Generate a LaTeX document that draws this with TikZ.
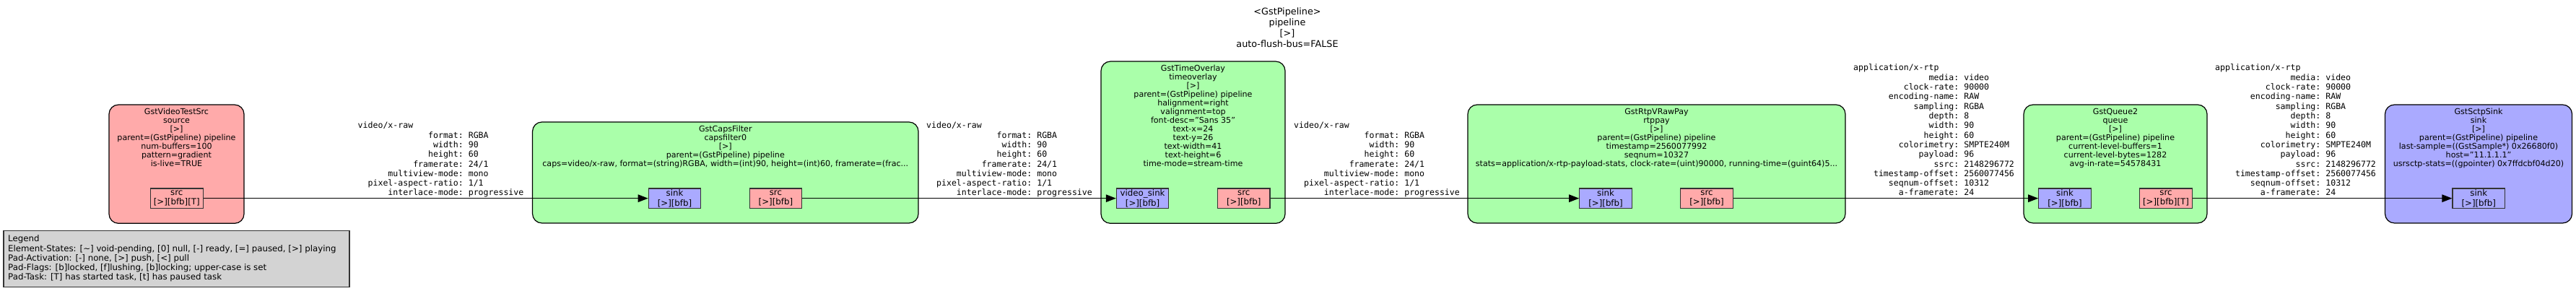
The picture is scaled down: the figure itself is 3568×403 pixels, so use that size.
\documentclass[tikz,border=0pt]{standalone}
\usepackage{fontspec}
\setmainfont{DejaVu Sans}
\setmonofont{DejaVu Sans Mono}
\usepackage{xcolor}
\usetikzlibrary{arrows.meta,positioning}

\definecolor{srcpink}{HTML}{FFAAAA}
\definecolor{filtgreen}{HTML}{AAFFAA}
\definecolor{sinkblue}{HTML}{AAAAFF}
\definecolor{legendgray}{HTML}{D3D3D3}

% key right-aligned in a 20 character column, then the value
\newcommand{\capkey}[2]{\makebox[12.041em][r]{#1}: #2}
\newcommand{\rawcaps}{video/x-raw\\
  \capkey{format}{RGBA}\\
  \capkey{width}{90}\\
  \capkey{height}{60}\\
  \capkey{framerate}{24/1}\\
  \capkey{multiview-mode}{mono}\\
  \capkey{pixel-aspect-ratio}{1/1}\\
  \capkey{interlace-mode}{progressive}}
\newcommand{\rtpcaps}{application/x-rtp\\
  \capkey{media}{video}\\
  \capkey{clock-rate}{90000}\\
  \capkey{encoding-name}{RAW}\\
  \capkey{sampling}{RGBA}\\
  \capkey{depth}{8}\\
  \capkey{width}{90}\\
  \capkey{height}{60}\\
  \capkey{colorimetry}{SMPTE240M}\\
  \capkey{payload}{96}\\
  \capkey{ssrc}{2148296772}\\
  \capkey{timestamp-offset}{2560077456}\\
  \capkey{seqnum-offset}{10312}\\
  \capkey{a-framerate}{24}}

\begin{document}
\begin{tikzpicture}[x=1pt,y=1pt,
    elem/.style={draw=black,line width=1.2pt,rounded corners=13pt,inner sep=0pt},
    elemtext/.style={inner sep=0pt,align=center,anchor=base,
      font=\fontsize{11.1}{12}\selectfont},
    pad/.style={draw=black!80,line width=1.1pt,inner sep=0pt,align=center,
      minimum width=72.5pt,minimum height=27.3pt,
      font=\fontsize{11.8}{13.3}\selectfont},
    sinkpad/.style={pad,fill=sinkblue},
    srcpad/.style={pad,fill=srcpink},
    edge/.style={line width=1.3pt,-{Triangle[length=14pt,width=10.5pt]}},
    caps/.style={inner sep=0pt,align=left,anchor=base west,
      font=\ttfamily\fontsize{11.56}{13.33}\selectfont}]
  \useasboundingbox (0,0) rectangle (3568,403);

  % pipeline title (base is the last line)
  \node[elemtext,font=\fontsize{12.8}{15}\selectfont] (title) at (1783,337.4)
    {<GstPipeline>\\pipeline\\{[>]}\\auto-flush-bus=FALSE};

  % elements
  \node[elem,fill=srcpink,minimum width=187pt,minimum height=164.3pt]
    (source) at (244.5,175.8) {};
  \node[elem,fill=filtgreen,minimum width=534.5pt,minimum height=140pt]
    (capsf) at (1004.8,164) {};
  \node[elem,fill=filtgreen,minimum width=255pt,minimum height=224.3pt]
    (overlay) at (1652.5,205.8) {};
  \node[elem,fill=filtgreen,minimum width=523pt,minimum height=164pt]
    (rtppay) at (2294.5,176) {};
  \node[elem,fill=filtgreen,minimum width=254pt,minimum height=164pt]
    (queue) at (2930,176) {};
  \node[elem,fill=sinkblue,minimum width=259pt,minimum height=164pt]
    (sink) at (3433,176) {};

  \node[elemtext] (source_txt) at ([yshift=-86pt]source.north)
    {GstVideoTestSrc\\source\\{[>]}\\parent=(GstPipeline) pipeline\\num-buffers=100\\pattern=gradient\\is-live=TRUE};
  \node[elemtext] (capsf_txt) at ([yshift=-62pt]capsf.north)
    {GstCapsFilter\\capsfilter0\\{[>]}\\parent=(GstPipeline) pipeline\\caps=video/x-raw, format=(string)RGBA, width=(int)90, height=(int)60, framerate=(frac...};
  \node[elemtext] (overlay_txt) at ([yshift=-146pt]overlay.north)
    {GstTimeOverlay\\timeoverlay\\{[>]}\\parent=(GstPipeline) pipeline\\halignment=right\\valignment=top\\font-desc="Sans 35"\\text-x=24\\text-y=26\\text-width=41\\text-height=6\\time-mode=stream-time};
  \node[elemtext] (rtppay_txt) at ([yshift=-86pt]rtppay.north)
    {GstRtpVRawPay\\rtppay\\{[>]}\\parent=(GstPipeline) pipeline\\timestamp=2560077992\\seqnum=10327\\stats=application/x-rtp-payload-stats, clock-rate=(uint)90000, running-time=(guint64)5...};
  \node[elemtext] (queue_txt) at ([yshift=-86pt]queue.north)
    {GstQueue2\\queue\\{[>]}\\parent=(GstPipeline) pipeline\\current-level-buffers=1\\current-level-bytes=1282\\avg-in-rate=54578431};
  \node[elemtext] (sink_txt) at ([yshift=-86pt]sink.north)
    {GstSctpSink\\sink\\{[>]}\\parent=(GstPipeline) pipeline\\last-sample=((GstSample*) 0x26680f0)\\host="11.1.1.1"\\usrsctp-stats=((gpointer) 0x7ffdcbf04d20)};

  % pads
  \node[srcpad] (source_src) at (244.8,128.3) {src\\{[>][bfb][T]}};
  \node[sinkpad] (capsf_sink) at (934.5,128.3) {sink\\{[>][bfb]}};
  \node[srcpad] (capsf_src) at (1074.4,128.3) {src\\{[>][bfb]}};
  \node[sinkpad] (overlay_sink) at (1582.6,128.3) {video\_sink\\{[>][bfb]}};
  \node[srcpad] (overlay_src) at (1722.7,128.3) {src\\{[>][bfb]}};
  \node[sinkpad] (rtppay_sink) at (2224,128.3) {sink\\{[>][bfb]}};
  \node[srcpad] (rtppay_src) at (2364,128.3) {src\\{[>][bfb]}};
  \node[sinkpad] (queue_sink) at (2860,128.3) {sink\\{[>][bfb]}};
  \node[srcpad] (queue_src) at (3000,128.3) {src\\{[>][bfb][T]}};
  \node[sinkpad] (sink_sink) at (3433.2,128.3) {sink\\{[>][bfb]}};

  % links
  \draw[edge] (source_src) -- (capsf_sink);
  \draw[edge] (capsf_src) -- (overlay_sink);
  \draw[edge] (overlay_src) -- (rtppay_sink);
  \draw[edge] (rtppay_src) -- (queue_sink);
  \draw[edge] (queue_src) -- (sink_sink);

  % caps on the links
  \node[caps] (caps_raw1) at (495.5,132) {\rawcaps};
  \node[caps] (caps_raw2) at (1283,132) {\rawcaps};
  \node[caps] (caps_raw3) at (1792,132) {\rawcaps};
  \node[caps] (caps_rtp1) at (2567,132) {\rtpcaps};
  \node[caps] (caps_rtp2) at (3068,132) {\rtpcaps};

  % legend
  \node[draw=black!80,line width=1.2pt,fill=legendgray,inner sep=0pt,
    minimum width=479pt,minimum height=77.6pt] (legend) at (244.5,44.5) {};
  \node[inner sep=0pt,align=left,anchor=base west,
    font=\fontsize{11.8}{13.2}\selectfont] (legend_txt) at (11,15.3)
    {Legend\\Element-States: [\textasciitilde] void-pending, [0] null, [-] ready, [=] paused, [>] playing\\Pad-Activation: [-] none, [>] push, [<] pull\\Pad-Flags: [b]locked, [f]lushing, [b]locking; upper-case is set\\Pad-Task: [T] has started task, [t] has paused task};
\end{tikzpicture}
\end{document}
